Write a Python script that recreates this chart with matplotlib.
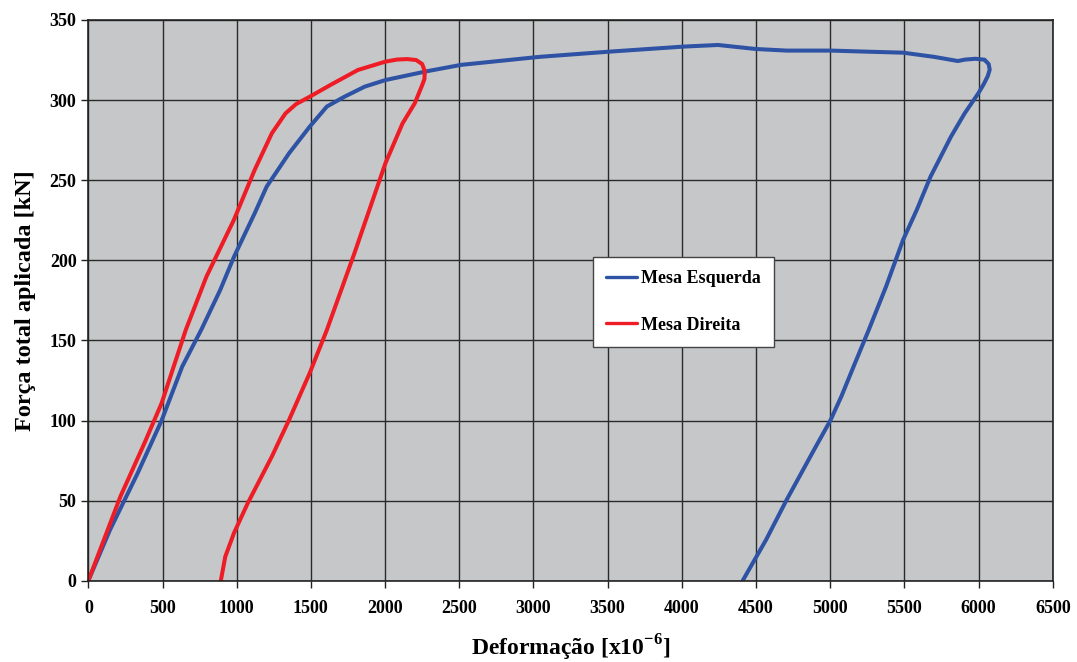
import matplotlib
matplotlib.use('Agg')
import matplotlib.pyplot as plt

plt.rcParams['font.family'] = 'Liberation Serif'
plt.rcParams['font.weight'] = 'bold'
plt.rcParams['mathtext.fontset'] = 'custom'
plt.rcParams['mathtext.rm'] = 'Liberation Serif:bold'
plt.rcParams['mathtext.bf'] = 'Liberation Serif:bold'

# Mesa Esquerda (blue)
esq_x = [0, 146, 332, 494, 633, 761, 889, 981, 1121, 1202, 1353, 1492, 1608, 1724, 1863,
         2002, 2281, 2513, 3042, 3505, 4012, 4244, 4498, 4706, 5006, 5260, 5491, 5699,
         5860, 5910, 5980, 6040, 6068, 6075, 6062, 6035, 5998, 5906, 5814, 5676, 5583, 5491,
         5376, 5260, 5167, 5075, 5001, 4891, 4706, 4567, 4410]
esq_y = [0, 31.7, 67, 100, 133.7, 156.6, 181.5, 202, 229.3, 246, 266.8, 283.4, 296, 302, 308.4,
         312.5, 318, 322, 327, 330.2, 333.4, 334.4, 331.9, 330.9, 330.9, 330.2, 329.6, 327,
         324.4, 325.3, 325.8, 325.2, 322.5, 319, 315, 310, 304.2, 291.7, 277.2, 252.2, 231.4, 212.7,
         183.5, 156.6, 135.8, 115, 100, 81.7, 50.4, 25.4, 0]

# Mesa Direita (red)
dir_x = [0, 216, 378, 494, 657, 796, 981, 1121, 1237, 1329, 1400, 1492, 1631, 1817, 2002,
         2080, 2150, 2210, 2250, 2268, 2265, 2246, 2200, 2118, 2002, 1793, 1608, 1492, 1353,
         1237, 1074, 981, 923, 893]
dir_y = [0, 52.5, 85.8, 110.8, 156.6, 189.8, 225.2, 256.4, 279.3, 291.7, 297.5, 302.1, 309.4, 318.8, 324,
         325.3, 325.6, 325, 322.5, 318, 313, 308.4, 298, 285.5, 260.5, 204.3, 156.6, 129.6, 100.4,
         77.5, 48.3, 29.6, 15, 0]

x_ticks = list(range(0, 6501, 500))
y_ticks = list(range(0, 351, 50))

fig = plt.figure(figsize=(10.77, 6.62), dpi=100)
ax = fig.add_axes([0.082, 0.1228, 0.8955, 0.847])
ax.set_facecolor('#C6C7C9')

ax.plot(esq_x, esq_y, color='#2E52A4', lw=2.9, label='Mesa Esquerda',
        solid_joinstyle='round', solid_capstyle='round')
ax.plot(dir_x, dir_y, color='#EE1C25', lw=2.9, label='Mesa Direita',
        solid_joinstyle='round', solid_capstyle='round')

ax.set_xlim(0, 6500)
ax.set_ylim(0, 350)
ax.set_xticks(x_ticks)
ax.set_yticks(y_ticks)
ax.grid(True, color='#2a2a2a', lw=1.0)
ax.set_axisbelow(True)
for s in ax.spines.values():
    s.set_color('#222222')
    s.set_linewidth(1.2)
ax.tick_params(axis='both', labelsize=13, color='#222222', length=5, width=1)
ax.tick_params(axis='x', pad=9)

ax.set_xlabel(r'Deformação [x10$^{-6}$]', fontsize=17, fontweight='bold', labelpad=11)
ax.set_ylabel('Força total aplicada [kN]', fontsize=17.5, fontweight='bold', labelpad=10)

leg = ax.legend(loc='upper left', bbox_to_anchor=(593 / 1077, 1 - 257 / 662), bbox_transform=fig.transFigure,
                fancybox=False, framealpha=1, edgecolor='#444444', fontsize=13,
                labelspacing=1.65, handlelength=1.7, handletextpad=0.25, borderpad=0.72,
                borderaxespad=0)
leg.get_frame().set_linewidth(1.0)
for t in leg.get_texts():
    t.set_fontweight('bold')
for h in leg.get_lines():
    h.set_linewidth(2.4)

fig.savefig('out.png', dpi=100)
